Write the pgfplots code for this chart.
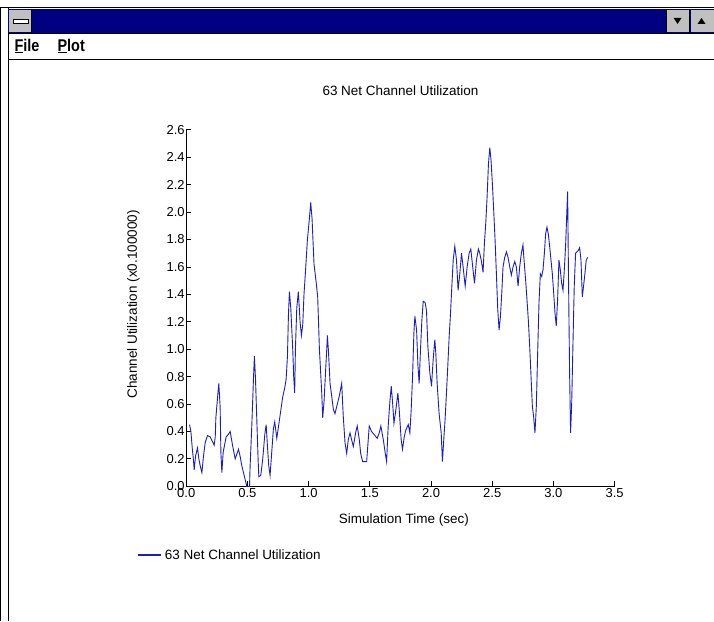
\documentclass[border=0pt]{standalone}
\usepackage{pgfplots}
\pgfplotsset{compat=1.18}
\usepackage{fontspec}
\setmainfont{Liberation Sans}
\definecolor{navy}{RGB}{0,0,128}
\definecolor{wgray}{RGB}{192,192,192}
\definecolor{trace}{RGB}{30,30,190}
\begin{document}
\begin{tikzpicture}[x=1pt,y=1pt]
% window chrome (pixel coords, Y = 622 - y)
\fill[white] (0,0) rectangle (714,622);
\draw[black,line width=1pt] (0.5,0) -- (0.5,614);
\draw[black,line width=1pt] (8,0) -- (8,614);
\draw[black,line width=1pt] (0,614) -- (714,614);
\fill[navy] (8,613) rectangle (714,589);
\fill[wgray] (9,612) rectangle (31,590);
\draw[black] (31,613) -- (31,589);
\fill[white] (13,603) rectangle (28,599);
\draw[black,line width=0.6pt] (13,603) rectangle (28,599);
\fill[wgray] (667,612) rectangle (689,590);
\fill[wgray] (691,612) rectangle (714,590);
\draw[black] (666.5,613) -- (666.5,589);
\draw[black] (690,613) -- (690,589);
\fill[black] (674,604) -- (682,604) -- (678,598) -- cycle;
\fill[black] (698,598) -- (706,598) -- (702,604) -- cycle;
\draw[black,line width=1pt] (8,588.5) -- (714,588.5);
\draw[black,line width=1pt] (8,562) -- (714,562);
\node[anchor=west,font=\bfseries\fontsize{17}{19}\selectfont,inner sep=0,xscale=0.85] at (14,576) {\underline{F}ile};
\node[anchor=west,font=\bfseries\fontsize{17}{19}\selectfont,inner sep=0,xscale=0.85] at (57,576) {\underline{P}lot};
\begin{axis}[
  at={(186pt,135pt)}, anchor=south west,
  scale only axis, width=429pt, height=357pt,
  xmin=0, xmax=3.5, ymin=0, ymax=2.6,
  axis lines=left, axis line style={-,black,line width=0.8pt},
  xtick={0,0.5,1,1.5,2,2.5,3,3.5},
  ytick={0,0.2,0.4,0.6,0.8,1.0,1.2,1.4,1.6,1.8,2.0,2.2,2.4,2.6},
  tick align=inside, major tick length=5pt,
  tick style={black,line width=0.8pt},
  /pgf/number format/assume math mode=true,
  /pgf/number format/.cd, fixed, fixed zerofill, precision=1, /pgfplots/.cd,
  tick label style={font=\fontsize{13}{15}\selectfont},
  xticklabel style={yshift=1pt},
  yticklabel style={xshift=2pt},
  title={63 Net Channel Utilization},
  title style={at={(0.5,1.092)},anchor=center,font=\fontsize{13.5}{15}\selectfont},
  xlabel={Simulation Time (sec)},
  xlabel style={at={(0.508,-0.095)},anchor=center,font=\fontsize{13.5}{15}\selectfont},
  ylabel={Channel Utilization (x0.100000)},
  ylabel style={at={(-0.1235,0.51)},anchor=center,font=\fontsize{13.5}{15}\selectfont},
  legend style={at={(-0.114,-0.193)},anchor=west,draw=none,fill=none,inner sep=0pt,
    font=\fontsize{13.5}{15}\selectfont, nodes={inner sep=3pt}},
  legend cell align=left,
  legend image code/.code={\draw[trace,line width=1.3pt] (0pt,0pt) -- (23pt,0pt);},
]
\addplot[trace, line width=0.9pt] table {
t v
0.027 0.45
0.038 0.40
0.049 0.28
0.060 0.18
0.065 0.12
0.076 0.22
0.092 0.28
0.103 0.20
0.114 0.15
0.128 0.10
0.141 0.22
0.155 0.32
0.174 0.37
0.196 0.36
0.218 0.32
0.228 0.30
0.237 0.36
0.242 0.50
0.256 0.65
0.266 0.75
0.277 0.58
0.283 0.25
0.291 0.10
0.302 0.25
0.313 0.30
0.326 0.36
0.345 0.38
0.359 0.40
0.378 0.30
0.400 0.20
0.427 0.27
0.440 0.22
0.454 0.15
0.473 0.08
0.495 0.00
0.517 0.00
0.522 0.15
0.536 0.45
0.549 0.78
0.557 0.95
0.566 0.78
0.576 0.50
0.587 0.20
0.593 0.07
0.609 0.08
0.625 0.20
0.642 0.38
0.653 0.45
0.663 0.30
0.674 0.15
0.685 0.08
0.701 0.28
0.712 0.42
0.723 0.47
0.740 0.35
0.756 0.45
0.772 0.55
0.788 0.65
0.805 0.72
0.816 0.78
0.827 0.95
0.835 1.25
0.843 1.42
0.854 1.30
0.870 1.00
0.878 0.80
0.886 0.68
0.892 1.00
0.903 1.30
0.916 1.42
0.930 1.20
0.941 1.10
0.952 1.18
0.962 1.40
0.973 1.55
0.990 1.80
1.006 1.95
1.017 2.07
1.028 1.95
1.044 1.62
1.060 1.50
1.074 1.38
1.088 1.00
1.107 0.68
1.115 0.50
1.126 0.62
1.139 0.85
1.148 1.00
1.153 1.10
1.161 1.00
1.175 0.75
1.188 0.66
1.202 0.56
1.215 0.53
1.229 0.58
1.251 0.66
1.270 0.75
1.283 0.51
1.297 0.32
1.311 0.24
1.324 0.34
1.338 0.39
1.351 0.34
1.365 0.29
1.384 0.39
1.397 0.44
1.414 0.34
1.425 0.24
1.441 0.18
1.474 0.18
1.495 0.44
1.514 0.40
1.533 0.38
1.560 0.35
1.577 0.39
1.590 0.44
1.610 0.34
1.626 0.24
1.637 0.18
1.650 0.44
1.664 0.62
1.675 0.73
1.686 0.61
1.697 0.46
1.713 0.56
1.729 0.68
1.740 0.56
1.756 0.34
1.767 0.27
1.781 0.36
1.794 0.41
1.814 0.45
1.827 0.39
1.838 0.56
1.849 0.80
1.860 1.12
1.868 1.24
1.882 1.14
1.893 0.88
1.903 0.75
1.914 1.00
1.925 1.21
1.936 1.35
1.952 1.34
1.963 1.28
1.974 1.02
1.990 0.83
2.004 0.73
2.017 0.92
2.031 1.07
2.039 0.97
2.050 0.75
2.066 0.53
2.083 0.39
2.093 0.18
2.104 0.34
2.115 0.49
2.126 0.68
2.137 0.88
2.148 1.09
2.159 1.26
2.170 1.46
2.181 1.65
2.194 1.75
2.208 1.65
2.221 1.43
2.235 1.55
2.249 1.70
2.262 1.60
2.279 1.46
2.295 1.60
2.311 1.70
2.325 1.73
2.338 1.62
2.355 1.48
2.371 1.65
2.387 1.73
2.398 1.70
2.412 1.64
2.425 1.56
2.436 1.77
2.447 1.92
2.458 2.11
2.469 2.35
2.480 2.47
2.490 2.38
2.501 2.21
2.512 2.01
2.523 1.80
2.534 1.55
2.545 1.29
2.556 1.14
2.567 1.24
2.578 1.41
2.588 1.60
2.602 1.67
2.616 1.71
2.629 1.67
2.643 1.60
2.656 1.54
2.670 1.60
2.684 1.64
2.697 1.60
2.711 1.46
2.724 1.60
2.738 1.70
2.751 1.76
2.760 1.65
2.773 1.50
2.784 1.36
2.795 1.21
2.806 1.02
2.817 0.80
2.828 0.58
2.838 0.51
2.849 0.39
2.860 0.58
2.871 0.97
2.882 1.34
2.893 1.55
2.904 1.53
2.915 1.58
2.926 1.70
2.936 1.84
2.947 1.89
2.958 1.84
2.969 1.75
2.980 1.65
2.991 1.55
3.002 1.41
3.013 1.26
3.023 1.17
3.034 1.36
3.045 1.65
3.056 1.58
3.067 1.48
3.078 1.43
3.089 1.58
3.100 1.77
3.111 2.04
3.116 2.15
3.121 1.70
3.127 1.21
3.132 0.83
3.140 0.39
3.149 0.60
3.159 1.02
3.170 1.46
3.181 1.70
3.192 1.71
3.203 1.72
3.214 1.74
3.225 1.65
3.236 1.38
3.246 1.46
3.257 1.55
3.268 1.65
3.279 1.67
};
\addlegendentry{63 Net Channel Utilization}
\end{axis}
\end{tikzpicture}
\end{document}
